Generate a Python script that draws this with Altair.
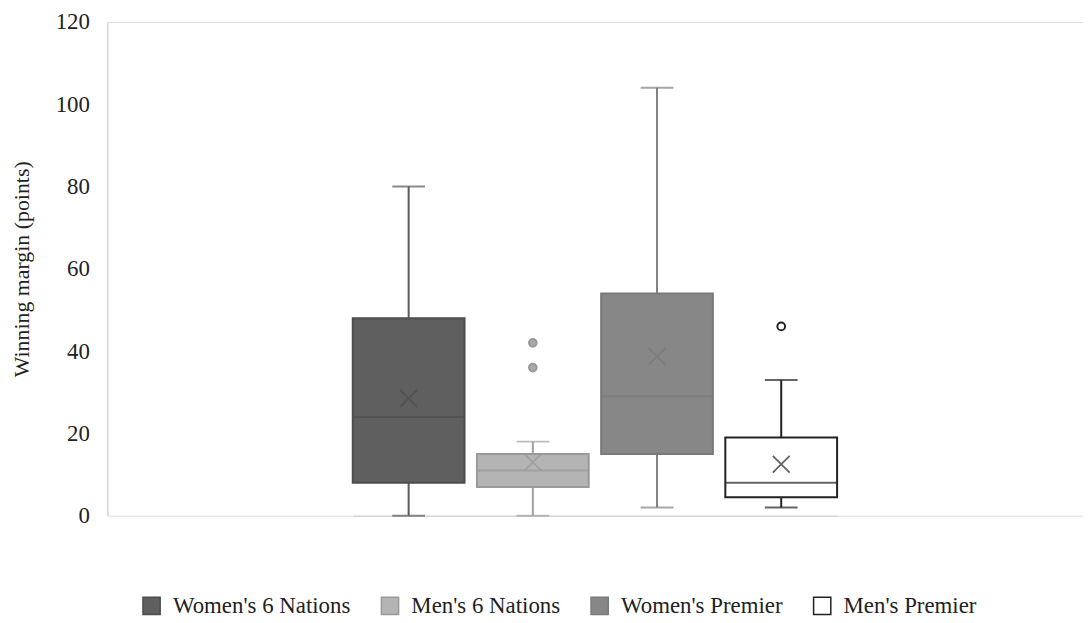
import altair as alt
import pandas as pd

series = ["Women's 6 Nations", "Men's 6 Nations", "Women's Premier", "Men's Premier"]
mins = [0, 0, 2, 2]
q1 = [8, 7, 15, 4.5]
med = [24, 11, 29, 8]
q3 = [48, 15, 54, 19]
maxs = [80, 18, 104, 33]
means = [28.5, 13, 38.7, 12.5]
outlier_series = ["Men's 6 Nations", "Men's 6 Nations", "Men's Premier"]
outlier_vals = [42, 36, 46]

fills = ["#5f5f5f", "#b4b4b4", "#878787", "#ffffff"]
strokes = ["#4d4d4d", "#999999", "#7a7a7a", "#222222"]
whisk = ["#595959", "#a0a0a0", "#808080", "#222222"]

df = pd.DataFrame({"series": series, "min": mins, "q1": q1, "med": med,
                   "q3": q3, "max": maxs, "mean": means, "wc": whisk, "sc": strokes})
dfo = pd.DataFrame({"series": outlier_series, "v": outlier_vals})
dfo["fc"] = dfo["series"].map({"Men's 6 Nations": "#a8a8a8", "Men's Premier": "#ffffff"})
dfo["sc"] = dfo["series"].map({"Men's 6 Nations": "#999999", "Men's Premier": "#222222"})

FONT = "'Liberation Serif', 'Times New Roman', Times, serif"

x = alt.X("series:N", sort=series,
          scale=alt.Scale(domain=series, paddingInner=0.1, paddingOuter=0, range=[247, 734.5]),
          axis=alt.Axis(labels=False, ticks=False, title=None, domainColor="#d9d9d9", domainWidth=1.5))
yscale = alt.Scale(domain=[0, 120])

base = alt.Chart(df).encode(x=x)

lower = base.mark_rule(strokeWidth=2).encode(
    y=alt.Y("min:Q", scale=yscale,
            axis=alt.Axis(values=[0, 20, 40, 60, 80, 100, 120], ticks=False, grid=False,
                          domainColor="#d9d9d9", domainWidth=1.5, labelFont=FONT, labelFontSize=23,
                          labelColor="#222222", labelPadding=18, title="Winning margin (points)",
                          titleFont=FONT, titleFontSize=22, titleFontWeight="normal",
                          titleColor="#222222", titlePadding=22)),
    y2="q1:Q", color=alt.Color("wc:N", scale=None))
upper = base.mark_rule(strokeWidth=2).encode(
    y=alt.Y("q3:Q", scale=yscale), y2="max:Q", color=alt.Color("wc:N", scale=None))
capmin = base.mark_tick(size=33, thickness=2).encode(
    y=alt.Y("min:Q", scale=yscale), color=alt.Color("wc:N", scale=None))
capmax = base.mark_tick(size=33, thickness=2).encode(
    y=alt.Y("max:Q", scale=yscale), color=alt.Color("wc:N", scale=None))
box = base.mark_bar(strokeWidth=2).encode(
    y=alt.Y("q1:Q", scale=yscale), y2="q3:Q",
    fill=alt.Fill("series:N", sort=series, scale=alt.Scale(domain=series, range=fills),
                  legend=alt.Legend(title=None, orient="none", legendX=33, legendY=576,
                                    direction="horizontal", symbolType="square", symbolSize=300,
                                    symbolStrokeWidth=1.5, labelFont=FONT, labelFontSize=23,
                                    labelColor="#222222", labelOffset=10, columnPadding=27,
                                    labelLimit=400)),
    stroke=alt.Stroke("series:N", sort=series, scale=alt.Scale(domain=series, range=strokes)))
median = base.mark_tick(size=112, thickness=2).encode(
    y=alt.Y("med:Q", scale=yscale), color=alt.Color("sc:N", scale=None))
meanpt = base.mark_point(shape="M-1,-1L1,1M-1,1L1,-1", size=289, strokeWidth=1.8, filled=False).encode(
    y=alt.Y("mean:Q", scale=yscale), color=alt.Color("sc:N", scale=None))
outl = alt.Chart(dfo).mark_point(shape="circle", size=60, strokeWidth=2, opacity=1).encode(
    x=x, y=alt.Y("v:Q", scale=yscale),
    fill=alt.Fill("fc:N", scale=None), stroke=alt.Stroke("sc:N", scale=None))

chart = alt.layer(lower, upper, capmin, capmax, box, median, meanpt, outl).properties(
    width=982, height=497,
    autosize=alt.AutoSizeParams(type="none"),
    padding={"left": 100, "top": 12, "right": 0, "bottom": 105},
).configure_view(stroke=None).configure(background="white", font=FONT)

chart.save("out.html", embed_options={"renderer": "svg", "actions": False})
